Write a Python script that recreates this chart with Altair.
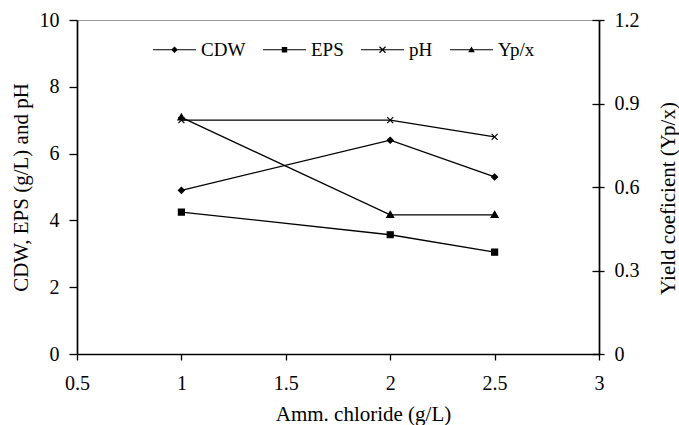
import altair as alt
import pandas as pd

# ---- data ----
ammonium = [1, 2, 2.5]
cdw = [4.9, 6.4, 5.3]
eps = [4.25, 3.57, 3.05]
ph = [7.0, 7.0, 6.5]
ypx = [0.85, 0.50, 0.50]

series_names = ["CDW", "EPS", "pH", "Yp/x"]
x_ticks = [0.5, 1, 1.5, 2, 2.5, 3]
left_ticks = [0, 2, 4, 6, 8, 10]
right_ticks = [0, 0.3, 0.6, 0.9, 1.2]
right_on_left = [0, 2.5, 5, 7.5, 10]

rows = []
for name, vals in [("CDW", cdw), ("EPS", eps), ("pH", ph)]:
    for xv, v in zip(ammonium, vals):
        rows.append({"x": xv, "value": v, "series": name})
df_left = pd.DataFrame(rows)
df_right = pd.DataFrame({"x": ammonium, "value": ypx, "series": ["Yp/x"] * 3})
df_legend = pd.DataFrame({"legend_series": series_names})

FONT = "Liberation Serif"

x_enc = alt.X(
    "x:Q",
    scale=alt.Scale(domain=[0.5, 3], nice=False, zero=False),
    axis=alt.Axis(
        values=x_ticks, labelExpr="datum.value + ''", title="Amm. chloride (g/L)",
        tickSize=6, labelPadding=13, grid=False, domainColor="black", domainWidth=1.5,
        tickColor="black", tickWidth=1.3, titleX=286, titleY=66, labelFlush=False,
        titleBaseline="alphabetic", titleAlign="center",
    ),
)

left_scale = alt.Scale(domain=[0, 10], nice=False)
right_scale = alt.Scale(domain=[0, 1.2], nice=False)

left_axis = alt.Axis(
    orient="left", values=left_ticks, title="CDW, EPS (g/L) and pH", tickSize=8,
    labelPadding=10, grid=False, domainColor="black", domainWidth=1.7, labelFlush=False,
    tickColor="black", tickWidth=1.3, titleX=-50, titleY=167, titleAngle=270,
    titleBaseline="alphabetic", titleAlign="center",
)
inward_axis = alt.Axis(
    orient="right", values=right_on_left, labels=False, domain=False, grid=False,
    tickSize=7, offset=-7, tickColor="black", tickWidth=1.3, title=None,
)
right_axis = alt.Axis(
    orient="right", values=right_ticks, labelExpr="datum.value + ''",
    title="Yield coeficient (Yp/x)", tickSize=5, labelPadding=10, grid=False,
    domainColor="black", domainWidth=1.7, tickColor="black", tickWidth=1.3, labelFlush=False,
    titleX=75, titleY=178, titleAngle=270, titleBaseline="alphabetic", titleAlign="center",
)

point_shapes = ["diamond", "square", "M-1,-1L1,1M1,-1L-1,1", "M0,-1.1L1.1,0.8L-1.1,0.8Z"]
# legend keys: a thin filled bar (the line) with the marker on top, all as filled outlines
bar = "M-7.2,-0.2L7.2,-0.2L7.2,0.2L-7.2,0.2Z"
bar_rev = "M-7.2,-0.2L-7.2,0.2L7.2,0.2L7.2,-0.2Z"
legend_shapes = [
    bar + "M-1.1,0L0,-1.1L1.1,0L0,1.1Z",
    bar + "M-0.9,-0.9L0.9,-0.9L0.9,0.9L-0.9,0.9Z",
    bar_rev + "M-1.14,-0.86L0.86,1.14L1.14,0.86L-0.86,-1.14Z"
    + "M-1.14,0.86L-0.86,1.14L1.14,-0.86L0.86,-1.14Z",
    bar + "M0,-1.1L1.1,0.8L-1.1,0.8Z",
]

left_lines = alt.Chart(df_left).mark_line(color="black", strokeWidth=1.3).encode(
    x=x_enc,
    y=alt.Y("value:Q", scale=left_scale, axis=left_axis),
    detail="series:N",
)
left_points = alt.Chart(df_left).mark_point(
    filled=True, color="black", stroke="black", strokeWidth=1.2, opacity=1, size=36
).encode(
    x=x_enc,
    y=alt.Y("value:Q", scale=left_scale, axis=inward_axis),
    shape=alt.Shape("series:N", scale=alt.Scale(domain=series_names, range=point_shapes), legend=None),
)
left_group = alt.layer(left_lines, left_points)

right_line = alt.Chart(df_right).mark_line(color="black", strokeWidth=1.3).encode(
    x=x_enc,
    y=alt.Y("value:Q", scale=right_scale, axis=right_axis),
)
right_points = alt.Chart(df_right).mark_point(
    filled=True, color="black", stroke="black", strokeWidth=1.2, opacity=1, size=40
).encode(
    x=x_enc,
    y=alt.Y("value:Q", scale=right_scale, axis=right_axis),
    shape=alt.Shape("series:N", scale=alt.Scale(domain=series_names, range=point_shapes), legend=None),
)
right_group = alt.layer(right_line, right_points)

legend_layer = alt.Chart(df_legend).mark_point(
    filled=True, color="black", opacity=1
).encode(
    shape=alt.Shape(
        "legend_series:N",
        scale=alt.Scale(domain=series_names, range=legend_shapes),
        legend=alt.Legend(
            title=None, orient="none", legendX=88, legendY=20, direction="horizontal",
            columns=4, symbolSize=36, labelOffset=17, columnPadding=13,
            labelFont=FONT, labelFontSize=19, labelColor="black", padding=0,
            symbolFillColor="black", symbolOpacity=1,
        ),
    ),
).transform_filter("false")

chart = alt.layer(left_group, right_group, legend_layer).resolve_scale(
    y="independent", shape="independent"
).properties(
    width=522, height=334,
    autosize=alt.AutoSizeParams(type="none"),
    padding={"left": 77, "top": 20, "right": 80, "bottom": 71},
).configure_view(
    stroke="#999999", strokeWidth=1
).configure_axis(
    labelFont=FONT, titleFont=FONT, labelFontSize=20, titleFontSize=21,
    labelColor="black", titleColor="black", titleFontWeight="normal",
)

chart.save("out.html", embed_options={"renderer": "svg", "actions": False})
